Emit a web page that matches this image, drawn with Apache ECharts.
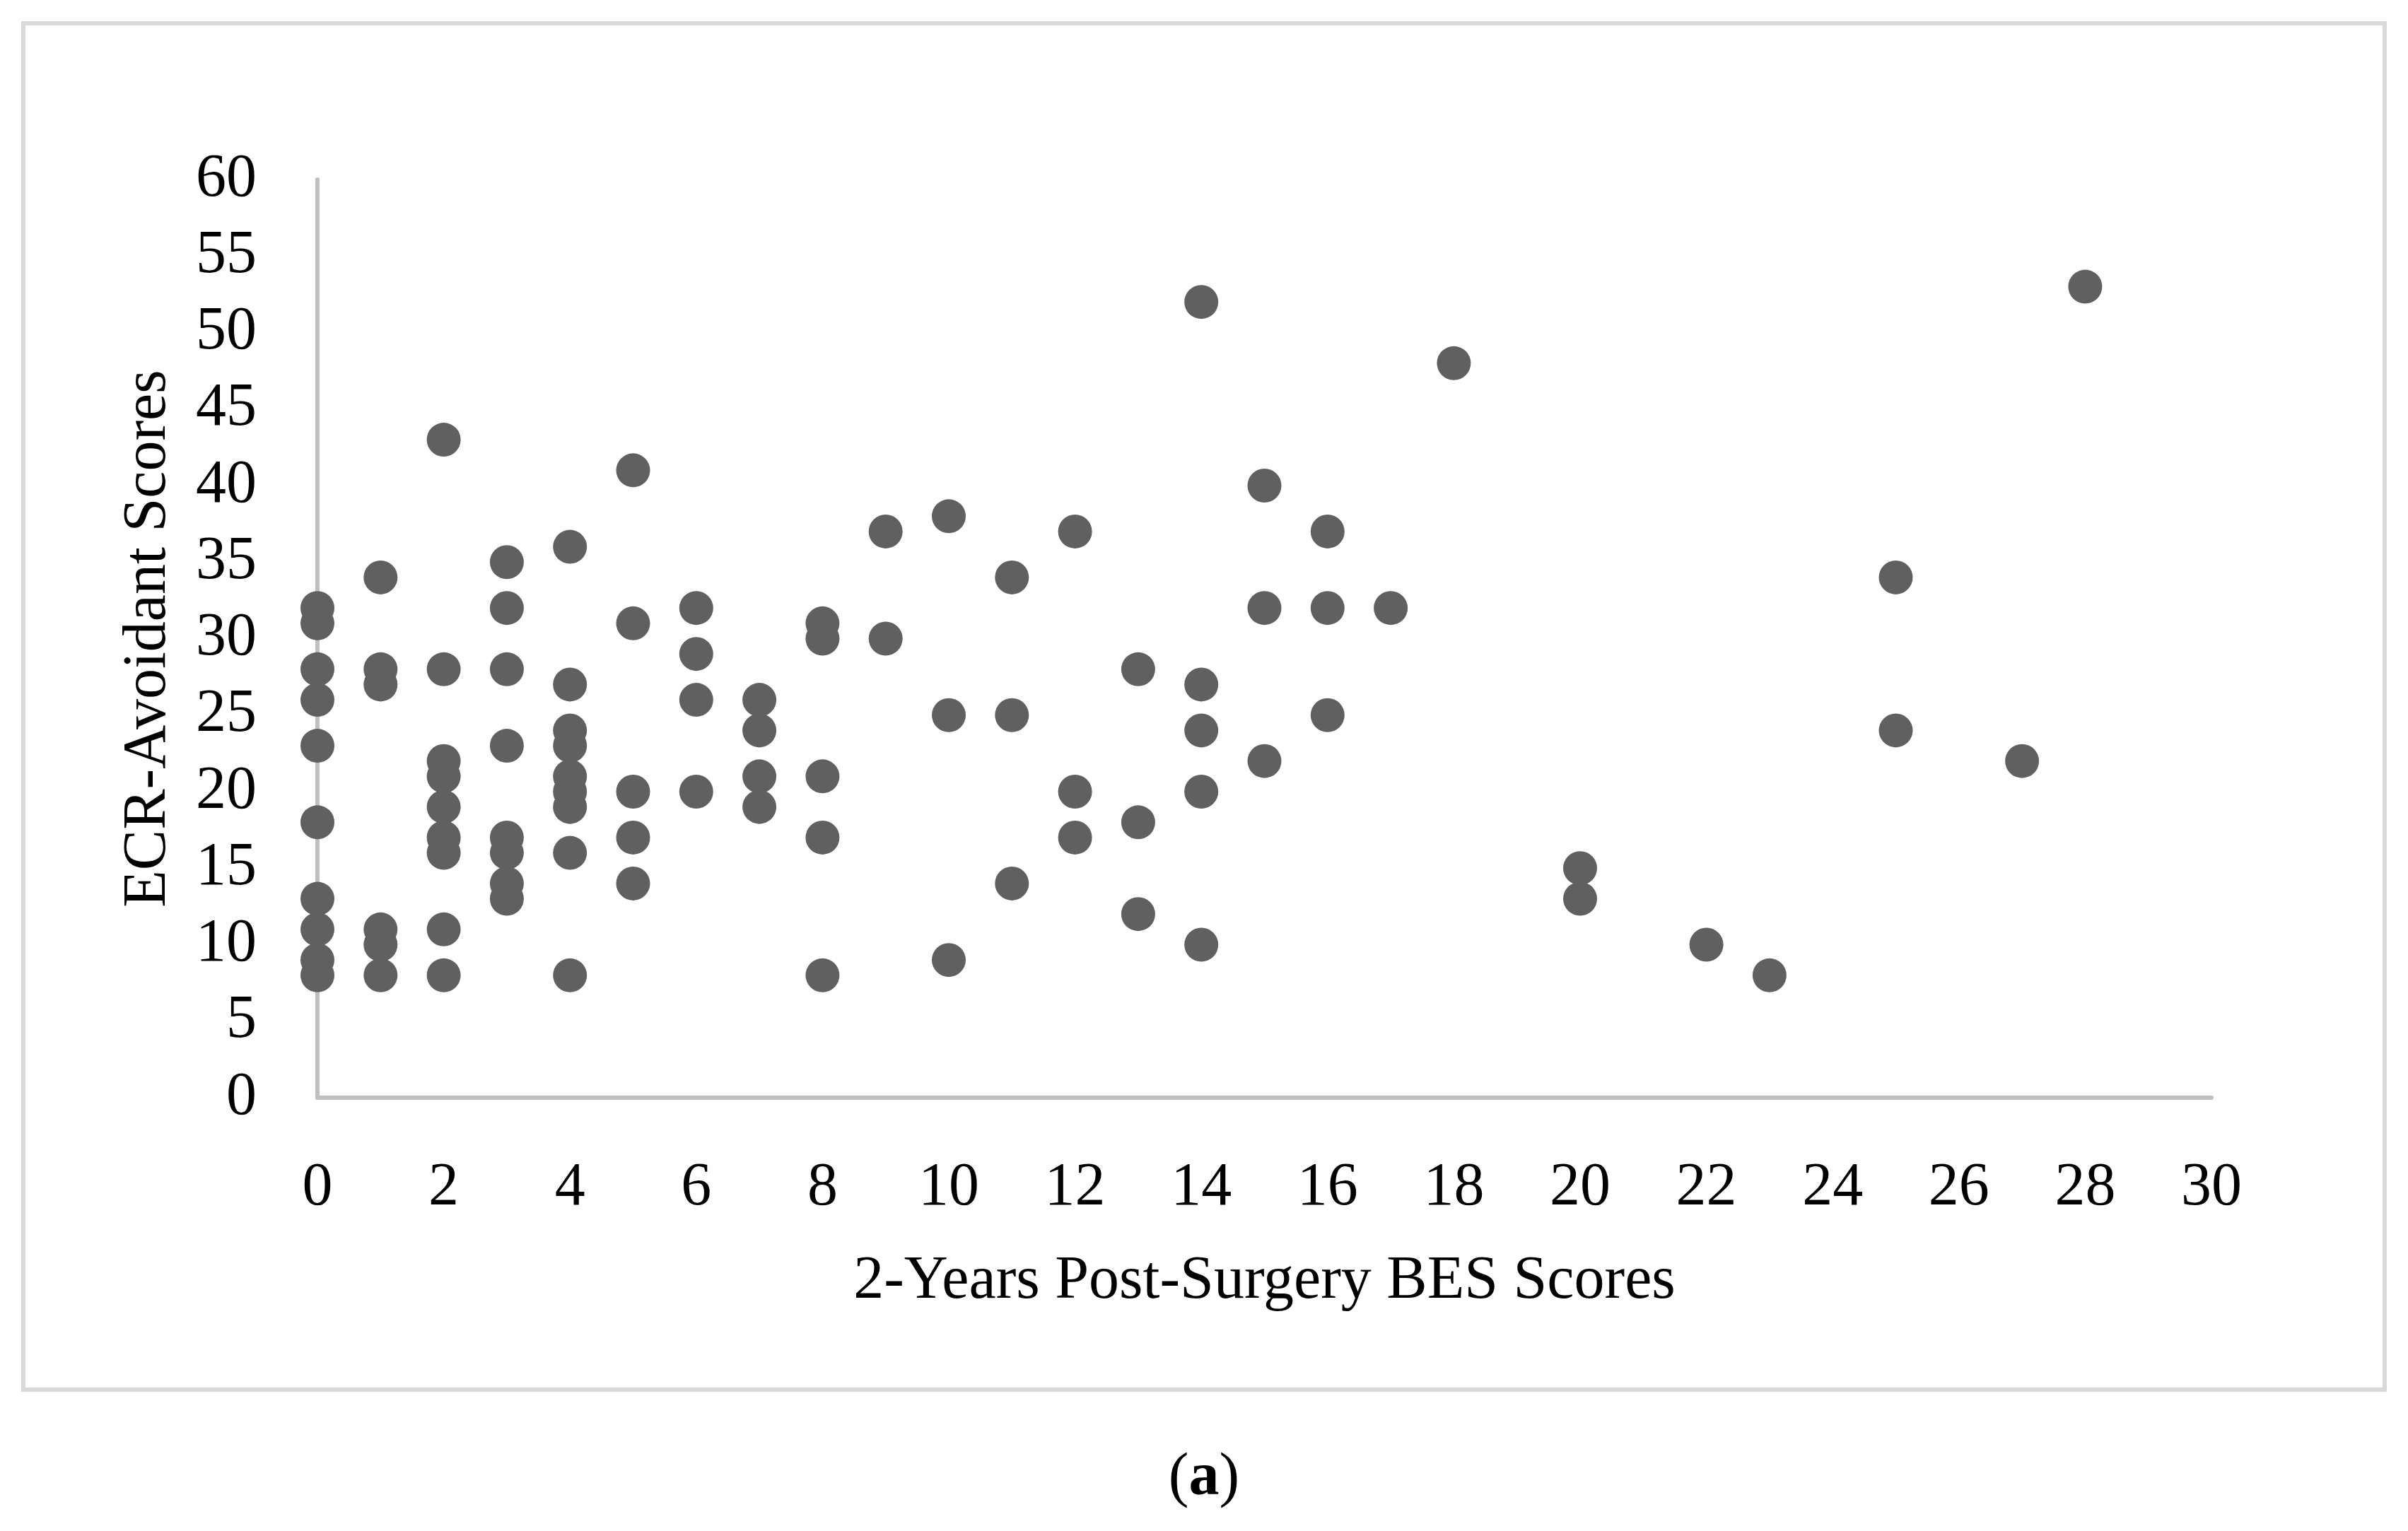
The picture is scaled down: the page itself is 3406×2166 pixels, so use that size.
<!DOCTYPE html>
<html>
<head>
<meta charset="utf-8">
<script src="https://cdn.jsdelivr.net/npm/echarts@6/dist/echarts.min.js"></script>
<style>
html,body{margin:0;padding:0;background:#fff;}
#chart{width:3406px;height:2166px;}
</style>
</head>
<body>
<div id="chart"></div>
<script>
// 2-Years Post-Surgery BES Scores (x) and ECR-Avoidant Scores (y), paired by index
const besScores = [
  0,0,0,0,0,0,0,0,0,0,
  1,1,1,1,1,1,
  2,2,2,2,2,2,2,2,2,
  3,3,3,3,3,3,3,3,
  4,4,4,4,4,4,4,4,4,
  5,5,5,5,5,
  6,6,6,6,
  7,7,7,7,
  8,8,8,8,8,
  9,9,
  10,10,10,
  11,11,11,
  12,12,12,
  13,13,13,
  14,14,14,14,14,
  15,15,15,
  16,16,16,
  17,
  18,
  20,20,
  22,
  23,
  25,25,
  27,
  28
];
const ecrAvoidant = [
  32,31,28,26,23,18,13,11,9,8,
  34,28,27,11,10,8,
  43,28,22,21,19,17,16,11,8,
  35,32,28,23,17,16,14,13,
  36,27,24,23,21,20,19,16,8,
  41,31,20,17,14,
  32,29,26,20,
  26,24,21,19,
  31,30,21,17,8,
  37,30,
  38,25,9,
  34,25,14,
  37,20,17,
  28,18,12,
  52,27,24,20,10,
  40,32,22,
  37,32,25,
  32,
  48,
  15,13,
  10,
  8,
  34,24,
  22,
  53
];
const xTitle = '2-Years Post-Surgery BES Scores';
const yTitle = 'ECR-Avoidant Scores';
const caption = '(a)';

const points = besScores.map((x, i) => [x, ecrAvoidant[i]]);
const FONT = '"Liberation Serif", "DejaVu Serif", serif';

const chart = echarts.init(document.getElementById('chart'), null, {renderer: 'canvas'});
chart.setOption({
  backgroundColor: '#ffffff',
  animation: false,
  grid: {left: 449, right: 278, top: 254, bottom: 613, containLabel: false},
  xAxis: {
    type: 'value', min: 0, max: 30, interval: 2,
    name: xTitle, nameLocation: 'middle', nameGap: 217,
    nameTextStyle: {fontFamily: FONT, fontSize: 86, color: '#000'},
    axisLine: {show: true, lineStyle: {color: '#bfbfbf', width: 6}},
    axisTick: {show: false},
    splitLine: {show: false},
    axisLabel: {fontFamily: FONT, fontSize: 86, color: '#000', margin: 85}
  },
  yAxis: {
    type: 'value', min: 0, max: 60, interval: 5,
    name: yTitle, nameLocation: 'middle', nameGap: 196, nameRotate: 90,
    nameTextStyle: {fontFamily: FONT, fontSize: 86, color: '#000'},
    axisLine: {show: true, lineStyle: {color: '#bfbfbf', width: 6}},
    axisTick: {show: false},
    splitLine: {show: false},
    axisLabel: {fontFamily: FONT, fontSize: 86, color: '#000', margin: 86}
  },
  graphic: [
    {type: 'rect', shape: {x: 33, y: 33, width: 3340, height: 1933},
     style: {fill: 'none', stroke: '#d9d9d9', lineWidth: 6}, silent: true, z: -1},
    {type: 'text', x: 1703, y: 2092,
     style: {text: '{p|(}{b|a}{p|)}', align: 'center', verticalAlign: 'middle',
       rich: {p: {fontFamily: FONT, fontSize: 86, fill: '#000'},
              b: {fontFamily: FONT, fontSize: 86, fontWeight: 'bold', fill: '#000'}}}}
  ],
  series: [{
    type: 'scatter',
    data: points,
    symbol: 'circle',
    symbolSize: 48,
    itemStyle: {color: '#606060', opacity: 1},
    clip: false
  }]
});
</script>
</body>
</html>
